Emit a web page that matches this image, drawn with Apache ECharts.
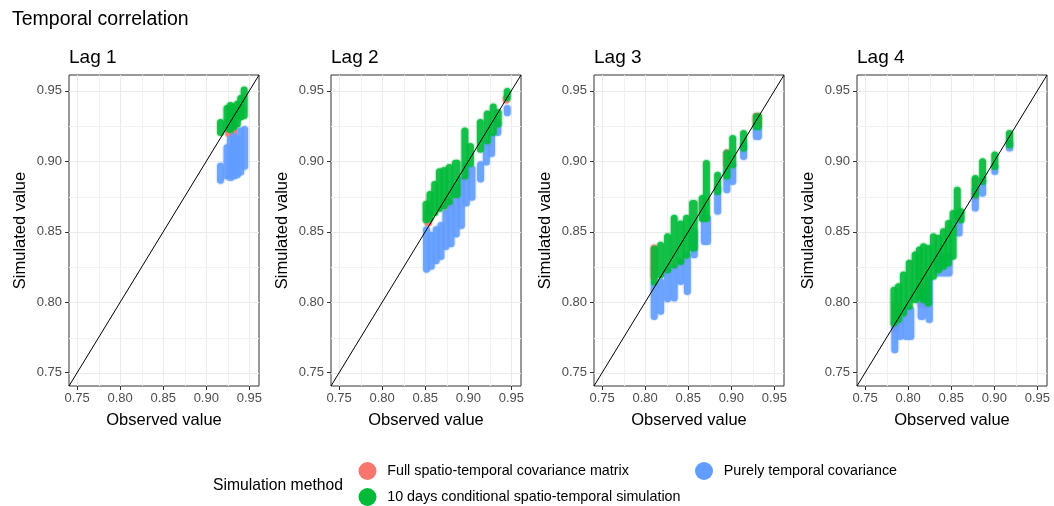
<!DOCTYPE html>
<html>
<head>
<meta charset="utf-8">
<title>Temporal correlation</title>
<script src="https://cdn.jsdelivr.net/npm/echarts@6/dist/echarts.min.js"></script>
<style>
  html, body { margin: 0; padding: 0; background: #fff; }
  #chart { width: 1054px; height: 506px; }
</style>
</head>
<body>
<div id="chart"></div>
<script>
const lags = ['Lag 1', 'Lag 2', 'Lag 3', 'Lag 4'];
const methods = [
    'Full spatio-temporal covariance matrix',
    '10 days conditional spatio-temporal simulation',
    'Purely temporal covariance'
];
const methodColors = ['#F8766D', '#00BA38', '#619CFF'];
const majorTicks = [0.75, 0.80, 0.85, 0.90, 0.95];
const minorTicks = [0.775, 0.825, 0.875, 0.925];
const axisRange = [0.7406, 0.9612];

// each streak of simulated points: [observed min, observed max, simulated min, simulated max]
const full1 = [
    [0.922, 0.936, 0.917, 0.930]
];
const cond1 = [
    [0.915, 0.918, 0.918, 0.930], [0.922, 0.926, 0.921, 0.940], [0.926, 0.930, 0.920, 0.942],
    [0.930, 0.934, 0.922, 0.941], [0.934, 0.938, 0.924, 0.943], [0.938, 0.942, 0.929, 0.947],
    [0.942, 0.946, 0.930, 0.953]
];
const temp1 = [
    [0.915, 0.918, 0.884, 0.899], [0.922, 0.926, 0.887, 0.912], [0.926, 0.930, 0.886, 0.918],
    [0.930, 0.934, 0.887, 0.920], [0.934, 0.938, 0.888, 0.918], [0.938, 0.942, 0.890, 0.924],
    [0.942, 0.947, 0.894, 0.925]
];

const full2 = [
    [0.849, 0.858, 0.854, 0.866], [0.869, 0.881, 0.866, 0.874], [0.940, 0.948, 0.941, 0.947]
];
const cond2 = [
    [0.849, 0.853, 0.856, 0.872], [0.853, 0.858, 0.857, 0.879], [0.858, 0.864, 0.861, 0.886],
    [0.864, 0.869, 0.864, 0.895], [0.869, 0.875, 0.866, 0.896], [0.875, 0.881, 0.869, 0.898],
    [0.881, 0.891, 0.874, 0.901], [0.893, 0.899, 0.887, 0.924], [0.899, 0.906, 0.896, 0.913],
    [0.910, 0.918, 0.906, 0.930], [0.918, 0.926, 0.912, 0.936], [0.926, 0.932, 0.918, 0.941],
    [0.932, 0.9375, 0.924, 0.937], [0.9415, 0.949, 0.9425, 0.952]
];
const temp2 = [
    [0.849, 0.854, 0.821, 0.854], [0.854, 0.860, 0.823, 0.850], [0.860, 0.8655, 0.827, 0.854],
    [0.8655, 0.871, 0.830, 0.857], [0.871, 0.877, 0.837, 0.866], [0.877, 0.883, 0.839, 0.872],
    [0.883, 0.889, 0.846, 0.883], [0.889, 0.895, 0.852, 0.889], [0.895, 0.9005, 0.868, 0.899],
    [0.9005, 0.908, 0.872, 0.897], [0.913, 0.9155, 0.885, 0.900], [0.918, 0.924, 0.897, 0.916],
    [0.924, 0.930, 0.903, 0.920], [0.931, 0.9375, 0.918, 0.929], [0.9415, 0.949, 0.932, 0.940]
];

const full3 = [
    [0.807, 0.814, 0.816, 0.841], [0.8919, 0.8978, 0.895, 0.9085], [0.925, 0.9355, 0.924, 0.9345]
];
const cond3 = [
    [0.807, 0.814, 0.812, 0.840], [0.814, 0.822, 0.817, 0.843], [0.822, 0.830, 0.8206, 0.849],
    [0.830, 0.8375, 0.824, 0.862], [0.8375, 0.845, 0.8265, 0.858], [0.845, 0.851, 0.831, 0.862],
    [0.851, 0.861, 0.836, 0.8726], [0.8647, 0.8678, 0.857, 0.876], [0.8678, 0.8744, 0.857, 0.9009],
    [0.8803, 0.888, 0.876, 0.8926], [0.8919, 0.8978, 0.887, 0.908], [0.8978, 0.9055, 0.895, 0.9186],
    [0.9114, 0.9172, 0.9068, 0.9222], [0.925, 0.9355, 0.9222, 0.934]
];
const temp3 = [
    [0.807, 0.814, 0.7875, 0.8147], [0.814, 0.822, 0.7911, 0.817], [0.822, 0.830, 0.800, 0.825],
    [0.830, 0.8375, 0.8005, 0.8265], [0.8375, 0.845, 0.8123, 0.8312], [0.845, 0.853, 0.8052, 0.8359],
    [0.853, 0.861, 0.8312, 0.8525], [0.8647, 0.8764, 0.8407, 0.862], [0.8803, 0.888, 0.862, 0.8832],
    [0.8919, 0.8978, 0.8773, 0.895], [0.8978, 0.9055, 0.8832, 0.8997], [0.9114, 0.9172, 0.9009, 0.9139],
    [0.925, 0.9355, 0.9151, 0.9257]
];

const full4 = [
    [0.7812, 0.790, 0.778, 0.800], [0.811, 0.826, 0.796, 0.812], [0.8741, 0.8818, 0.872, 0.889]
];
const cond4 = [
    [0.7812, 0.7858, 0.7828, 0.811], [0.7858, 0.7916, 0.7852, 0.8135], [0.7916, 0.7974, 0.7899, 0.8218],
    [0.7974, 0.8052, 0.7946, 0.8301], [0.8052, 0.811, 0.7993, 0.836], [0.811, 0.8149, 0.8017, 0.8395],
    [0.8149, 0.8207, 0.7993, 0.8419], [0.8207, 0.8265, 0.797, 0.8407], [0.8265, 0.8323, 0.816, 0.849],
    [0.8323, 0.8381, 0.8206, 0.8478], [0.8381, 0.8439, 0.823, 0.8525], [0.8439, 0.8497, 0.8253, 0.8584],
    [0.8497, 0.8547, 0.8301, 0.8655], [0.8547, 0.8594, 0.8584, 0.882], [0.8594, 0.8636, 0.856, 0.8667],
    [0.8741, 0.8818, 0.8738, 0.8903], [0.8834, 0.8895, 0.8832, 0.9021], [0.8973, 0.9039, 0.8939, 0.9069],
    [0.9135, 0.922, 0.9092, 0.9222]
];
const temp4 = [
    [0.7812, 0.7877, 0.7639, 0.7875], [0.7877, 0.7935, 0.7733, 0.790], [0.7935, 0.8071, 0.7733, 0.797],
    [0.811, 0.8207, 0.7875, 0.811], [0.8207, 0.8285, 0.7852, 0.8183], [0.8304, 0.8516, 0.8183, 0.8348],
    [0.8547, 0.8632, 0.8466, 0.8655], [0.8741, 0.8818, 0.8643, 0.882], [0.8834, 0.8895, 0.8749, 0.8891],
    [0.8973, 0.9039, 0.8903, 0.8986], [0.9135, 0.922, 0.9069, 0.9151]
];

const fullData = [full1, full2, full3, full4];
const condData = [cond1, cond2, cond3, cond4];
const tempData = [temp1, temp2, temp3, temp4];

const panelLeft = [69, 331, 594, 857];
const panelTop = 75;
const panelW = 190;
const panelH = 311;
const DOT = 7; // point diameter in px
const FONT = 'Liberation Sans';

const chart = echarts.init(document.getElementById('chart'));

// soft-edged capsule covering one streak of overlapping points
function renderStreak(params, api) {
    const a = api.coord([api.value(0), api.value(3)]);
    const b = api.coord([api.value(1), api.value(2)]);
    let x0 = a[0], x1 = b[0], y0 = a[1], y1 = b[1];
    if (x1 - x0 < DOT) { const c = (x0 + x1) / 2; x0 = c - DOT / 2; x1 = c + DOT / 2; }
    if (y1 - y0 < DOT) { const c = (y0 + y1) / 2; y0 = c - DOT / 2; y1 = c + DOT / 2; }
    const color = api.visual('color');
    const box = (pad) => ({
        x: x0 - pad, y: y0 - pad, width: x1 - x0 + 2 * pad, height: y1 - y0 + 2 * pad, r: DOT / 2 + pad
    });
    return {
        type: 'group',
        children: [
            { type: 'rect', shape: box(1.3), style: { fill: color, opacity: 0.2 } },
            { type: 'rect', shape: box(0), style: { fill: color, opacity: 0.9 } }
        ]
    };
}

function renderGridLine(params, api) {
    const v = api.value(0);
    const major = api.value(2) === 1;
    const p = api.coord([v, v]);
    const px = Math.round(p[0]) + 0.5;
    const py = Math.round(p[1]) + 0.5;
    const cs = params.coordSys;
    const st = { stroke: major ? '#EBEBEB' : '#F2F2F2', lineWidth: 1 };
    return {
        type: 'group',
        children: [
            { type: 'line', shape: { x1: px, y1: cs.y, x2: px, y2: cs.y + cs.height }, style: st },
            { type: 'line', shape: { x1: cs.x, y1: py, x2: cs.x + cs.width, y2: py }, style: st }
        ]
    };
}

const gridLineData = majorTicks.map(v => [v, v, 1]).concat(minorTicks.map(v => [v, v, 0]));

const grids = [], xAxes = [], yAxes = [], series = [];
const titles = [{
    text: 'Temporal correlation', left: 12, top: 10, padding: 0,
    textStyle: { fontSize: 19.5, fontWeight: 'normal', color: '#000', fontFamily: FONT }
}, {
    text: 'Simulation method', left: 213, top: 478, padding: 0,
    textStyle: { fontSize: 15.7, fontWeight: 'normal', color: '#000', fontFamily: FONT }
}];

lags.forEach((lag, i) => {
    grids.push({
        left: panelLeft[i], top: panelTop, width: panelW, height: panelH,
        show: true, borderColor: '#333', borderWidth: 1, backgroundColor: '#fff'
    });
    titles.push({
        text: lag, left: panelLeft[i], top: 48, padding: 0,
        textStyle: { fontSize: 19, fontWeight: 'normal', color: '#000', fontFamily: FONT }
    });
    const common = {
        gridIndex: i, type: 'value', min: axisRange[0], max: axisRange[1],
        axisLine: { show: false },
        axisTick: { show: true, length: 4, customValues: majorTicks, lineStyle: { color: '#333', width: 1 } },
        splitLine: { show: false },
        nameLocation: 'middle',
        nameTextStyle: { fontSize: 16.5, color: '#000', fontFamily: FONT }
    };
    xAxes.push(Object.assign({}, common, {
        position: 'bottom',
        name: 'Observed value', nameGap: 26,
        axisLabel: {
            customValues: majorTicks, formatter: v => v.toFixed(2),
            color: '#4D4D4D', fontSize: 13, margin: 6, fontFamily: FONT
        }
    }));
    yAxes.push(Object.assign({}, common, {
        position: 'left',
        name: 'Simulated value', nameGap: 40,
        axisLabel: {
            customValues: majorTicks, formatter: v => v.toFixed(2),
            color: '#4D4D4D', fontSize: 13, margin: 7, fontFamily: FONT
        }
    }));

    series.push({
        type: 'custom', xAxisIndex: i, yAxisIndex: i, silent: true, z: 1,
        renderItem: renderGridLine, data: gridLineData, encode: { x: 0, y: 1 }
    });
    // drawing order: full matrix, purely temporal, then conditional on top
    [[0, fullData], [2, tempData], [1, condData]].forEach(([m, src]) => {
        series.push({
            type: 'custom', name: methods[m], xAxisIndex: i, yAxisIndex: i, z: 2,
            clip: true, silent: true,
            itemStyle: { color: methodColors[m] },
            renderItem: renderStreak,
            encode: { x: [0, 1], y: [2, 3] },
            data: src[i]
        });
    });
    series.push({
        type: 'line', xAxisIndex: i, yAxisIndex: i, z: 5, silent: true,
        symbol: 'none', lineStyle: { color: '#000', width: 1 },
        data: [[axisRange[0], axisRange[0]], [axisRange[1], axisRange[1]]]
    });
});

const legendBase = {
    orient: 'vertical', top: 462, padding: 0, itemWidth: 29.5, itemHeight: 18, itemGap: 8,
    icon: 'circle', selectedMode: false,
    textStyle: { fontSize: 14.3, color: '#000', fontFamily: FONT }
};

chart.setOption({
    backgroundColor: '#fff',
    animation: false,
    title: titles,
    legend: [
        Object.assign({}, legendBase, {
            left: 358.5,
            data: [
                { name: methods[0], itemStyle: { color: methodColors[0], opacity: 1 } },
                { name: methods[1], itemStyle: { color: methodColors[1], opacity: 1 } }
            ]
        }),
        Object.assign({}, legendBase, {
            left: 695,
            data: [{ name: methods[2], itemStyle: { color: methodColors[2], opacity: 1 } }]
        })
    ],
    grid: grids,
    xAxis: xAxes,
    yAxis: yAxes,
    series: series
});
</script>
</body>
</html>
